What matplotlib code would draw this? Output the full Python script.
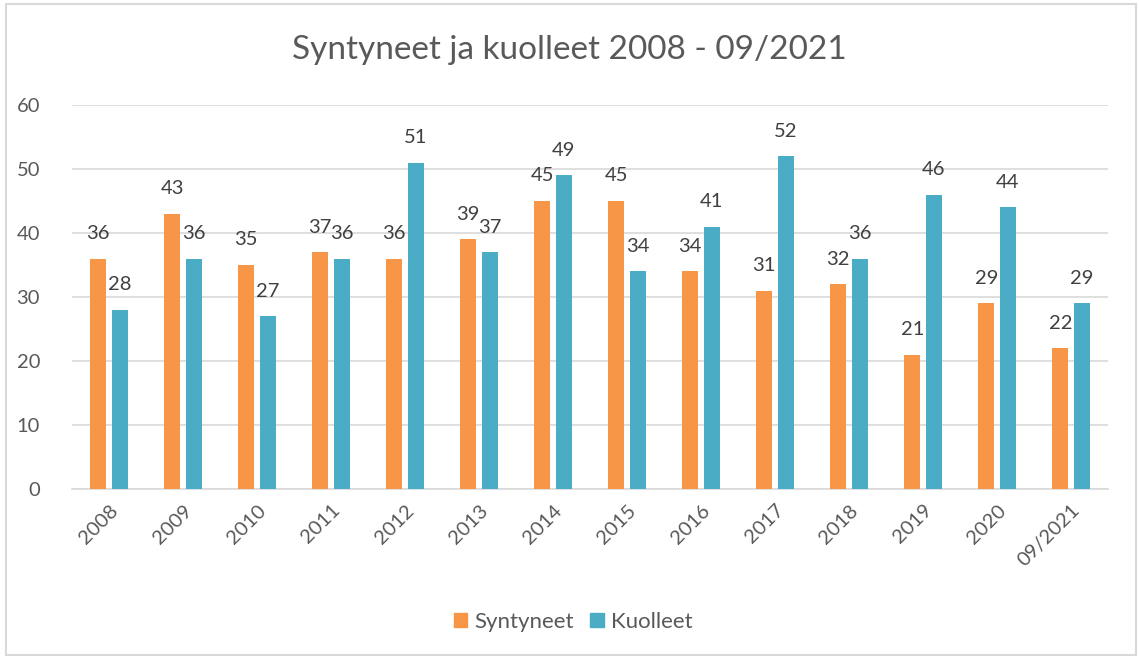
import numpy as np
import matplotlib
matplotlib.use("Agg")
import matplotlib.pyplot as plt
from matplotlib.patches import Patch, Rectangle

# ─── Data ─────────────────────────────────────────────────────────────────
years = ["2008", "2009", "2010", "2011", "2012", "2013", "2014",
         "2015", "2016", "2017", "2018", "2019", "2020", "09/2021"]
syntyneet = [36, 43, 35, 37, 36, 39, 45, 45, 34, 31, 32, 21, 29, 22]
kuolleet  = [28, 36, 27, 36, 51, 37, 49, 34, 41, 52, 36, 46, 44, 29]
y_ticks = [0, 10, 20, 30, 40, 50, 60]

ORANGE = "#F79646"
BLUE   = "#4BACC6"
GRID   = "#D9D9D9"
TXT    = "#595959"
LBL    = "#404040"

plt.rcParams["font.family"] = ["Lato", "DejaVu Sans"]

fig = plt.figure(figsize=(11.39, 6.59), dpi=100)
ax = fig.add_axes([0.0632, 0.258, 0.9096, 0.5827])

x = np.arange(len(years))
w = 0.216
off = 0.145

b1 = ax.bar(x - off, syntyneet, w, color=ORANGE, zorder=3, label="Syntyneet")
b2 = ax.bar(x + off, kuolleet,  w, color=BLUE,   zorder=3, label="Kuolleet")

for bars, vals in ((b1, syntyneet), (b2, kuolleet)):
    for rect, v in zip(bars, vals):
        ax.annotate(str(v), (rect.get_x() + rect.get_width() / 2, v),
                    xytext=(0, 18), textcoords="offset points",
                    ha="center", va="center", fontsize=14.5, color=LBL)

ax.set_xlim(-0.5, len(years) - 0.5)
ax.set_ylim(0, 60)
ax.set_yticks(y_ticks)
ax.set_yticklabels([str(t) for t in y_ticks], fontsize=14.5, color=TXT)
ax.set_xticks(x)
ax.set_xticklabels(years, rotation=45, ha="right", va="top",
                   rotation_mode="anchor", fontsize=14.5, color=TXT)
ax.tick_params(axis="y", length=0, pad=23)
ax.tick_params(axis="x", length=0, pad=9)

ax.grid(axis="y", color=GRID, lw=1.2, zorder=0)
for s in ("top", "right", "left"):
    ax.spines[s].set_visible(False)
ax.spines["bottom"].set_color(GRID)
ax.spines["bottom"].set_linewidth(1.2)

fig.text(0.5, 0.924, "Syntyneet ja kuolleet 2008 - 09/2021",
         ha="center", va="center", fontsize=24, color=TXT)

handles = [Patch(color=ORANGE, label="Syntyneet"),
           Patch(color=BLUE, label="Kuolleet")]
fig.legend(handles=handles, loc="center", bbox_to_anchor=(0.503, 0.056),
           ncol=2, frameon=False, fontsize=16, labelcolor=TXT,
           handlelength=0.62, handleheight=0.62, handletextpad=0.3,
           columnspacing=0.75)

fig.patches.append(Rectangle((6 / 1139, 4 / 659), 1130 / 1139, 651 / 659,
                             transform=fig.transFigure, fill=False,
                             edgecolor=GRID, lw=1.5))

fig.savefig("out.png", dpi=100)
